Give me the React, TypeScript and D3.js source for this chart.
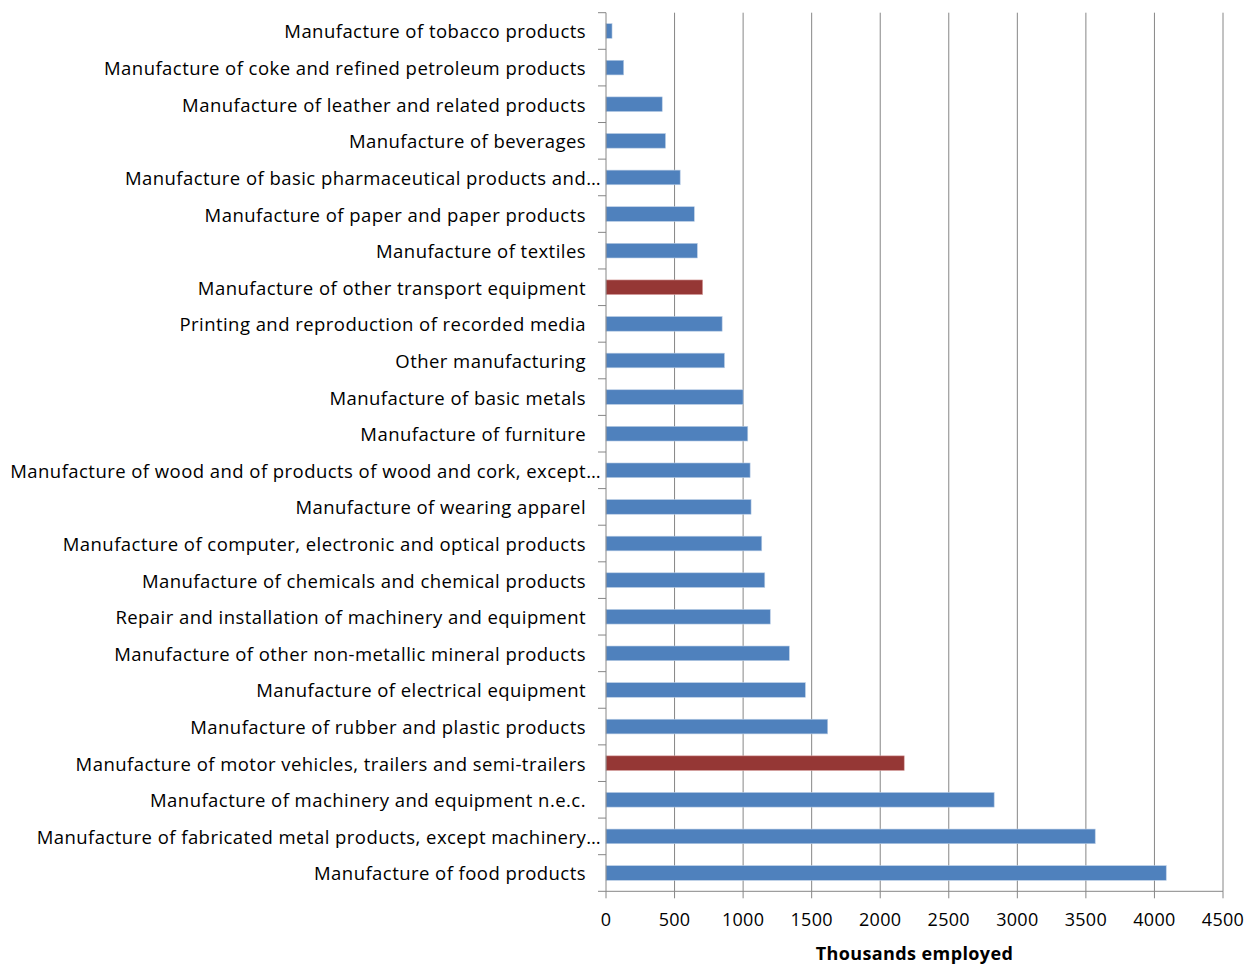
import React from "react";
import * as d3 from "d3";

const categories = [
  "Manufacture of tobacco products",
  "Manufacture of coke and refined petroleum products",
  "Manufacture of leather and related products",
  "Manufacture of beverages",
  "Manufacture of basic pharmaceutical products and…",
  "Manufacture of paper and paper products",
  "Manufacture of textiles",
  "Manufacture of other transport equipment",
  "Printing and reproduction of recorded media",
  "Other manufacturing",
  "Manufacture of basic metals",
  "Manufacture of furniture",
  "Manufacture of wood and of products of wood and cork, except…",
  "Manufacture of wearing apparel",
  "Manufacture of computer, electronic and optical products",
  "Manufacture of chemicals and chemical products",
  "Repair and installation of machinery and equipment",
  "Manufacture of other non-metallic mineral products",
  "Manufacture of electrical equipment",
  "Manufacture of rubber and plastic products",
  "Manufacture of motor vehicles, trailers and semi-trailers",
  "Manufacture of machinery and equipment n.e.c.",
  "Manufacture of fabricated metal products, except machinery…",
  "Manufacture of food products",
];

const values = [
  44, 129, 410, 434, 541, 644, 666, 705, 847, 864, 1000, 1034, 1051, 1058,
  1136, 1158, 1198, 1337, 1454, 1617, 2175, 2831, 3568, 4086,
];

const highlighted = [
  "Manufacture of other transport equipment",
  "Manufacture of motor vehicles, trailers and semi-trailers",
];

const xTicks = [0, 500, 1000, 1500, 2000, 2500, 3000, 3500, 4000, 4500];
const xTitle = "Thousands employed";

export default function App() {
  const W = 1257;
  const H = 964;
  const left = 606;
  const right = 1223;
  const top = 12.7;
  const bottom = 891.3;

  const x = d3.scaleLinear().domain([0, 4500]).range([left, right]);
  const y = d3
    .scaleBand<string>()
    .domain(categories)
    .range([top, bottom])
    .paddingInner(0.6)
    .paddingOuter(0.3);
  const band = d3.scaleBand<string>().domain(categories).range([top, bottom]);

  const font = "'Open Sans', sans-serif";
  const grid = "#868686";

  return (
    <svg
      width={W}
      height={H}
      style={{ position: "absolute", left: 0, top: 0, background: "#fff" }}
    >
      {/* gridlines */}
      {xTicks.slice(1).map((t) => (
        <line key={"g" + t} x1={x(t)} x2={x(t)} y1={top} y2={bottom} stroke={grid} strokeWidth={1} />
      ))}
      {/* bars */}
      {categories.map((c, i) => (
        <rect
          key={c}
          x={x(0)}
          y={y(c)}
          width={x(values[i]) - x(0)}
          height={y.bandwidth()}
          fill={highlighted.includes(c) ? "#953735" : "#4F81BD"}
          stroke={highlighted.includes(c) ? "#d9a3a2" : "#b9cde5"}
          strokeWidth={0.6}
        />
      ))}
      {/* y axis */}
      <line x1={left} x2={left} y1={top} y2={bottom} stroke={grid} strokeWidth={1} />
      {categories.map((c) => (
        <line key={"yt" + c} x1={left - 8} x2={left} y1={band(c)} y2={band(c)} stroke={grid} strokeWidth={1} />
      ))}
      <line x1={left - 8} x2={left} y1={bottom} y2={bottom} stroke={grid} strokeWidth={1} />
      {/* x axis */}
      <line x1={left} x2={right} y1={bottom} y2={bottom} stroke={grid} strokeWidth={1} />
      {xTicks.map((t) => (
        <line key={"xt" + t} x1={x(t)} x2={x(t)} y1={bottom} y2={bottom + 7} stroke={grid} strokeWidth={1} />
      ))}
      {xTicks.map((t) => (
        <text
          key={"xl" + t}
          x={x(t)}
          y={926}
          textAnchor="middle"
          fontFamily={font}
          fontSize={18}
          letterSpacing={0.3}
          fill="#000"
        >
          {t}
        </text>
      ))}
      {/* category labels */}
      {categories.map((c) => (
        <text
          key={"l" + c}
          x={c.endsWith("…") ? left - 5 : left - 20}
          y={(y(c) as number) + y.bandwidth() / 2 + 1}
          dy="0.35em"
          textAnchor="end"
          fontFamily={font}
          fontSize={18.5}
          letterSpacing={0.45}
          fill="#000"
        >
          {c}
        </text>
      ))}
      <text
        x={(left + right) / 2}
        y={960}
        textAnchor="middle"
        fontFamily={font}
        fontSize={18}
        letterSpacing={0.4}
        fontWeight="bold"
        fill="#000"
      >
        {xTitle}
      </text>
    </svg>
  );
}
